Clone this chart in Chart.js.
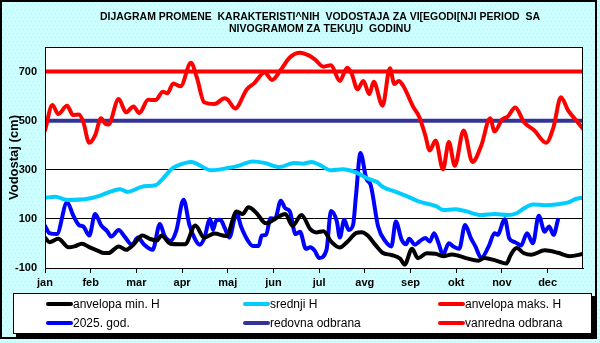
<!DOCTYPE html>
<html>
<head>
<meta charset="utf-8">
<script src="https://cdn.jsdelivr.net/npm/chart.js@4"></script>
<style>
  html, body { margin: 0; padding: 0; background: #ccffff; }
  #okvir { width: 600px; height: 343px; }
</style>
</head>
<body>
<div id="okvir"><canvas id="grafik" width="600" height="343"></canvas></div>
<script>
// ---- podaci (dan u godini / vodostaj u cm) ----
const meseci = ["jan", "feb", "mar", "apr", "maj", "jun", "jul", "avg", "sep", "okt", "nov", "dec"];
const yPodeoci = [-100, 100, 300, 500, 700];

const minDani = [0, 3, 9, 16, 20, 25, 30, 36, 40, 43, 50, 55, 60, 66, 71, 76, 79, 85, 91, 95, 102, 108, 115, 123, 130, 134, 138, 143, 150, 156, 163, 168, 174, 180, 184, 189, 194, 200, 205, 211, 215, 219, 224, 229, 235, 241, 244, 249, 253, 259, 265, 270, 276, 280, 287, 294, 298, 306, 313, 316, 320, 325, 330, 339, 348, 356, 365];
const minVrednosti = [24, 5, 19, -16, -12, -1, -15, -30, -39, -39, -12, -26, -5, 32, 19, 12, 32, -1, -3, -3, 73, 24, 40, 30, 130, 120, 147, 127, 82, 100, 120, 72, 116, 58, 45, 50, 8, -17, 6, 42, 46, 32, -5, -38, -47, -62, -86, -22, -60, -40, -42, -52, -45, -49, -62, -70, -59, -70, -82, -46, -19, -40, -46, -28, -38, -52, -43];

const srednjiDani = [0, 7, 15, 30, 37, 51, 56, 67, 75, 80, 86, 92, 99, 113, 124, 131, 141, 149, 159, 169, 175, 181, 186, 194, 202, 211, 219, 225, 229, 238, 245, 254, 266, 270, 278, 285, 296, 305, 314, 320, 325, 331, 339, 348, 355, 360, 365];
const srednjiVrednosti = [186, 190, 177, 183, 194, 221, 210, 233, 237, 264, 304, 322, 332, 298, 307, 316, 334, 328, 311, 328, 325, 332, 321, 298, 302, 289, 264, 251, 231, 210, 194, 170, 150, 136, 139, 132, 116, 120, 116, 123, 143, 159, 156, 160, 167, 181, 187];

const maksDani = [0, 5, 9, 15, 19, 23, 26, 30, 34, 38, 41, 43, 50, 55, 60, 64, 70, 75, 80, 83, 87, 92, 99, 103, 108, 115, 122, 124, 129, 137, 142, 149, 154, 160, 166, 173, 179, 183, 189, 194, 200, 205, 208, 212, 216, 220, 223, 229, 234, 237, 240, 243, 250, 254, 258, 261, 265, 270, 274, 278, 284, 290, 296, 302, 305, 310, 314, 319, 325, 332, 340, 345, 350, 355, 360, 365];
const maksVrednosti = [460, 564, 527, 561, 523, 525, 494, 410, 440, 510, 487, 484, 588, 534, 558, 531, 585, 584, 618, 612, 651, 640, 736, 676, 575, 568, 591, 585, 550, 628, 653, 696, 666, 707, 757, 777, 766, 750, 720, 726, 662, 716, 693, 628, 662, 608, 658, 561, 713, 649, 662, 642, 554, 514, 440, 379, 419, 302, 413, 316, 460, 332, 399, 510, 456, 504, 517, 554, 494, 460, 410, 474, 595, 541, 504, 467];

const godDani = [0, 3, 8, 15, 19, 23, 26, 30, 34, 38, 42, 45, 50, 54, 59, 63, 67, 73, 78, 81, 85, 89, 94, 98, 102, 105, 108, 112, 114, 116, 119, 122, 125, 130, 133, 138, 141, 145, 147, 150, 153, 156, 160, 163, 166, 170, 173, 177, 180, 183, 186, 191, 194, 198, 200, 203, 206, 209, 211, 214, 218, 221, 226, 231, 235, 238, 242, 245, 247, 251, 254, 258, 261, 264, 267, 270, 274, 277, 281, 285, 289, 292, 296, 301, 305, 307, 312, 315, 319, 323, 327, 331, 335, 339, 342, 345, 348];
const godVrednosti = [72, 42, 38, 168, 116, 75, 69, 32, 120, 75, 51, 28, 55, 28, -5, 24, -3, -26, 79, 32, 10, 50, 178, 75, 15, -5, 20, 100, 55, 92, 96, 62, 24, 123, 69, 8, -10, -10, 32, 35, 103, 100, 174, 143, 132, 38, 48, -22, -16, -30, -59, -26, 132, 89, 24, 96, 55, 75, 196, 368, 264, 237, 69, 8, -12, 89, 15, -3, 19, -5, 8, 22, 8, 42, 1, -46, 1, -12, -22, 75, 21, -12, -59, -12, 42, 35, 99, 20, 5, -8, 42, 1, 113, 48, 69, 35, 96];

const redovnaDani = [0, 365];
const redovnaVrednosti = [500, 500];
const vanrednaDani = [0, 365];
const vanrednaVrednosti = [700, 700];

const naslov = [
  "DIJAGRAM PROMENE  KARAKTERISTI^NIH  VODOSTAJA ZA VI[EGODI[NJI PERIOD  SA",
  "NIVOGRAMOM ZA TEKU]U  GODINU"
];

const FONT = '"Liberation Sans", Arial, sans-serif';

function tacke(dani, vrednosti) {
  return dani.map(function (d, i) { return { x: d, y: vrednosti[i] }; });
}

function serija(label, dani, vrednosti, boja, glatka) {
  return {
    label: label,
    data: tacke(dani, vrednosti),
    borderColor: boja,
    backgroundColor: boja,
    borderWidth: 4,
    pointRadius: 0,
    fill: false,
    cubicInterpolationMode: glatka ? "monotone" : "default",
    tension: glatka ? 0.4 : 0,
    borderJoinStyle: "round",
    borderCapStyle: "round"
  };
}

// pozadina, okvir, naslov i legenda u kutiji
const okvirPlugin = {
  id: "okvir",
  beforeDraw: function (chart) {
    const ctx = chart.ctx;
    const a = chart.chartArea;
    ctx.save();
    ctx.fillStyle = "#ccffff";
    ctx.fillRect(0, 0, chart.width, chart.height);
    ctx.fillStyle = "#b8eef2";
    for (let y = 1; y < chart.height; y += 4) {
      for (let x = (y % 8 === 1 ? 1 : 3); x < chart.width; x += 4) {
        ctx.fillRect(x, y, 1, 1);
      }
    }
    ctx.fillStyle = "#ffffff";
    ctx.fillRect(a.left, a.top, a.right - a.left, a.bottom - a.top);
    ctx.restore();
  },
  afterDraw: function (chart) {
    const ctx = chart.ctx;
    const a = chart.chartArea;
    ctx.save();
    // okvir oblasti crtanja
    ctx.strokeStyle = "#000";
    ctx.lineWidth = 1;
    ctx.strokeRect(a.left + 0.5, a.top + 0.5, a.right - a.left - 1, a.bottom - a.top);
    // spoljasnji okvir
    ctx.lineWidth = 2;
    ctx.strokeRect(1, 1, 595, 337);

    // naslov
    ctx.fillStyle = "#000";
    ctx.font = "bold 11px " + FONT;
    ctx.textAlign = "center";
    ctx.textBaseline = "middle";
    ctx.fillText(naslov[0], 320, 17, 440);
    ctx.fillText(naslov[1], 320, 29, 182);

    // legenda
    ctx.fillStyle = "#000";
    ctx.fillRect(16, 296, 579, 41);
    ctx.fillStyle = "#fff";
    ctx.fillRect(13, 293, 579, 41);
    ctx.lineWidth = 1;
    ctx.strokeStyle = "#000";
    ctx.strokeRect(13.5, 293.5, 578, 40);

    const kolone = [73, 270, 465];
    const redovi = [304, 323];
    ctx.font = "12px " + FONT;
    ctx.textAlign = "left";
    chart.data.datasets.forEach(function (ds, i) {
      const x = kolone[i % 3];
      const y = redovi[Math.floor(i / 3)];
      ctx.strokeStyle = ds.borderColor;
      ctx.lineWidth = 4;
      ctx.lineCap = "round";
      ctx.beginPath();
      ctx.moveTo(x - 25, y);
      ctx.lineTo(x - 2, y);
      ctx.stroke();
      ctx.fillStyle = "#000";
      ctx.fillText(ds.label, x, y + 1);
    });
    ctx.restore();
  }
};

new Chart(document.getElementById("grafik"), {
  type: "line",
  data: {
    datasets: [
      serija("anvelopa min. H", minDani, minVrednosti, "#000000", true),
      serija("srednji H", srednjiDani, srednjiVrednosti, "#00ccff", true),
      serija("anvelopa maks. H", maksDani, maksVrednosti, "#ff0000", true),
      serija("2025. god.", godDani, godVrednosti, "#0000ff", true),
      serija("redovna odbrana", redovnaDani, redovnaVrednosti, "#333399", false),
      serija("vanredna odbrana", vanrednaDani, vanrednaVrednosti, "#ff0000", false)
    ]
  },
  options: {
    responsive: false,
    animation: false,
    layout: { padding: { left: 0, top: 47, right: 17, bottom: 0 } },
    scales: {
      x: {
        type: "linear",
        min: 0,
        max: 365,
        afterBuildTicks: function (s) {
          s.ticks = meseci.map(function (m, i) { return { value: i * 31 }; });
        },
        afterFit: function (s) { s.height = 75; },
        ticks: {
          autoSkip: false,
          maxRotation: 0,
          padding: 3,
          color: "#000",
          font: { family: FONT, size: 11, weight: "bold" },
          callback: function (v) { return meseci[Math.round(v / 31)]; }
        },
        grid: { drawOnChartArea: false, drawTicks: true, tickLength: 5, color: "#000" },
        border: { display: true, color: "#000" }
      },
      y: {
        min: -100,
        max: 800,
        afterBuildTicks: function (s) {
          s.ticks = yPodeoci.map(function (v) { return { value: v }; });
        },
        afterFit: function (s) { s.width = 45; },
        ticks: {
          padding: 8,
          color: "#000",
          font: { family: FONT, size: 11, weight: "bold" }
        },
        grid: { color: "#000", lineWidth: 1, drawTicks: false },
        border: { display: true, color: "#000" },
        title: {
          display: true,
          text: "Vodostaj (cm)",
          color: "#000",
          font: { family: FONT, size: 13, weight: "bold" },
          padding: { top: 7, bottom: 0 }
        }
      }
    },
    plugins: {
      legend: { display: false },
      tooltip: { enabled: false }
    }
  },
  plugins: [okvirPlugin]
});
</script>
</body>
</html>
